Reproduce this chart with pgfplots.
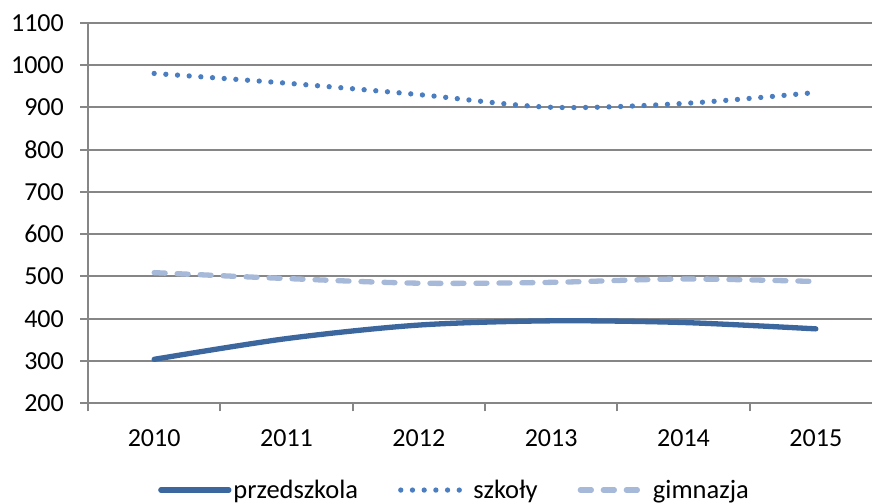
\documentclass[border=0pt]{standalone}
\usepackage{pgfplots}
\pgfplotsset{compat=1.18}
\usepackage{fontspec}
\setmainfont{Carlito}
\definecolor{cP}{RGB}{60,103,158}
\definecolor{cS}{RGB}{74,126,193}
\definecolor{cG}{RGB}{167,185,216}
\definecolor{cAx}{RGB}{134,134,134}
\begin{document}
\begin{tikzpicture}
\useasboundingbox (0,0) rectangle (872bp,504bp);
\clip (0,0) rectangle (872bp,504bp);
\begin{axis}[
  at={(88bp,100.7bp)}, anchor=south west,
  scale only axis, width=794bp, height=380.6bp,
  xmin=-0.5, xmax=5.5, ymin=200, ymax=1100,
  axis lines*=left,
  axis line style={draw=cAx, line width=2bp},
  ytick={200,300,...,1100},
  xtick={-0.5,0.5,...,5.5}, xticklabels={},
  extra x ticks={0,1,2,3,4,5},
  extra x tick labels={2010,2011,2012,2013,2014,2015},
  extra x tick style={major tick length=0pt, grid=none},
  tick align=outside, major tick length=8bp,
  tick style={draw=cAx, line width=2bp},
  ymajorgrids, grid style={draw=cAx, line width=2bp},
  /pgf/number format/assume math mode=true,
  /pgf/number format/1000 sep={},
  ticklabel style={font=\fontsize{26bp}{30bp}\selectfont, text=black},
  yticklabel style={anchor=east, inner sep=0pt, xshift=-16bp},
  xticklabel style={anchor=north, inner sep=0pt, yshift=-26bp},
  legend columns=3,
  legend style={at={(axis description cs:0.4616,-0.228)}, anchor=center,
    draw=none, fill=none, font=\fontsize{26.5bp}{30bp}\selectfont,
    /tikz/every even column/.append style={column sep=38bp}},
  legend image code/.code={\draw[#1] (0bp,0bp) -- (68bp,0bp);},
]
\addplot[cP, line width=5.3bp, smooth, tension=0.5, line cap=round] coordinates {(0,304)(1,353)(2,385)(3,395)(4,391)(5,376)};
\addlegendentry{przedszkola}
\addplot[cS, line width=5.3bp, smooth, tension=0.5, line cap=round, dash pattern=on 0bp off 11.7bp] coordinates {(0,980)(1,957)(2,930)(3,900)(4,909)(5,935)};
\addlegendentry{szkoły}
\addplot[cG, line width=5.3bp, smooth, tension=0.5, line cap=round, dash pattern=on 11bp off 12bp] coordinates {(0,509)(1,495)(2,484)(3,486)(4,494)(5,488)};
\addlegendentry{gimnazja}
\end{axis}
\end{tikzpicture}
\end{document}
